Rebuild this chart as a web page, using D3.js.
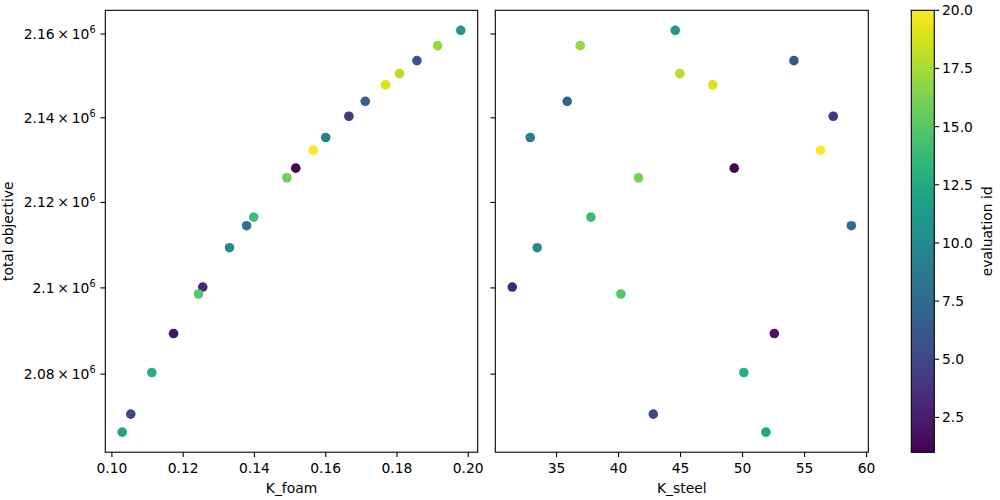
<!DOCTYPE html>
<html>
<head>
<meta charset="utf-8">
<script src="https://cdn.jsdelivr.net/npm/d3@7"></script>
<style>
  html, body { margin: 0; padding: 0; background: #fff; }
  svg { display: block; }
  text { font-family: "DejaVu Sans", sans-serif; fill: #000; }
</style>
</head>
<body>
<svg id="chart" width="1000" height="500"></svg>
<script>
// ---- data ----
const evalIds   = [1,2,3,4,5,6,7,8,9,10,11,12,13,14,15,16,17,18,19,20];
const kFoam     = [0.1516,0.1173,0.1255,0.1665,0.1053,0.1856,0.1711,0.1378,0.1600,0.1330,
                   0.1979,0.1029,0.1112,0.1398,0.1243,0.1491,0.1914,0.1807,0.1768,0.1565];
const kSteel    = [49.33,52.56,31.43,57.31,42.80,54.14,35.86,58.77,32.88,33.44,
                   44.57,51.88,50.10,37.77,40.19,41.61,36.91,44.94,47.60,56.29];
const totalObj  = [2.12808e6,2.08939e6,2.10020e6,2.14037e6,2.07080e6,2.15362e6,2.14393e6,2.11454e6,2.13533e6,2.10939e6,
                   2.16086e6,2.06667e6,2.08038e6,2.11656e6,2.09858e6,2.12582e6,2.15720e6,2.15052e6,2.14783e6,2.13233e6];
const yTicks    = [2.08e6, 2.10e6, 2.12e6, 2.14e6, 2.16e6];
const yTickMant = ["2.08", "2.1", "2.12", "2.14", "2.16"];
const foamTicks = [0.10, 0.12, 0.14, 0.16, 0.18, 0.20];
const steelTicks= [35, 40, 45, 50, 55, 60];
const cbTicks   = [2.5, 5.0, 7.5, 10.0, 12.5, 15.0, 17.5, 20.0];

// ---- layout ----
const yTop = 10.3, yBot = 452.2;
const P1 = {x0: 105.3, x1: 477.7};
const P2 = {x0: 495.3, x1: 868.3};
const CB = {x0: 911.3, x1: 934.3, y0: 10.3, y1: 452.3};
const FS = 13.89, TL = 4.86, PAD = 4.86;

const svg = d3.select("#chart");

function lin(vals, r){
  const [a,b] = d3.extent(vals); const m = (b-a)*0.05;
  return d3.scaleLinear().domain([a-m, b+m]).range(r);
}
const la = d3.extent(totalObj).map(Math.log10);
const lm = (la[1]-la[0])*0.05;
const y = d3.scaleLog().domain([10**(la[0]-lm), 10**(la[1]+lm)]).range([yBot, yTop]);
const xF = lin(kFoam, [P1.x0, P1.x1]);
const xS = lin(kSteel, [P2.x0, P2.x1]);
const color = d3.scaleSequential(d3.interpolateViridis).domain([1, 20]);

function panel(P, x, xs, ticks, fmt, label, showY){
  const g = svg.append("g");
  g.selectAll("circle").data(evalIds).join("circle")
    .attr("cx", (d,i)=>x(xs[i])).attr("cy", (d,i)=>y(totalObj[i]))
    .attr("r", 4.8).attr("fill", d=>color(d));
  g.append("rect").attr("x", P.x0).attr("y", yTop).attr("width", P.x1-P.x0).attr("height", yBot-yTop)
    .attr("fill","none").attr("stroke","#000").attr("stroke-width",1.1);
  ticks.forEach(t=>{
    const px = x(t);
    g.append("line").attr("x1",px).attr("x2",px).attr("y1",yBot).attr("y2",yBot+TL)
      .attr("stroke","#000").attr("stroke-width",1.1);
    g.append("text").attr("x",px).attr("y",yBot+TL+PAD+10.9).attr("text-anchor","middle")
      .attr("font-size",FS).text(fmt(t));
  });
  g.append("text").attr("x",(P.x0+P.x1)/2).attr("y",493.4).attr("text-anchor","middle")
    .attr("font-size",FS).text(label);
  yTicks.forEach((t,i)=>{
    const py = y(t);
    g.append("line").attr("x1",P.x0-TL).attr("x2",P.x0).attr("y1",py).attr("y2",py)
      .attr("stroke","#000").attr("stroke-width",1.1);
    if(showY){
      const tx = g.append("text").attr("x",P.x0-TL-PAD).attr("y",py+5).attr("text-anchor","end")
        .attr("font-size",FS);
      tx.append("tspan").text(yTickMant[i] + "\u2009\u00d7\u200910");
      tx.append("tspan").attr("dy",-6).attr("font-size",9.7).text("6");
    }
  });
}
panel(P1, xF, kFoam, foamTicks, d=>d.toFixed(2), "K_foam", true);
panel(P2, xS, kSteel, steelTicks, d=>String(d), "K_steel", false);

svg.append("text").attr("transform",`translate(13.2,${(yTop+yBot)/2}) rotate(-90)`)
  .attr("text-anchor","middle").attr("font-size",FS).text("total objective");

const defs = svg.append("defs");
const grad = defs.append("linearGradient").attr("id","vir").attr("x1",0).attr("x2",0).attr("y1",1).attr("y2",0);
d3.range(0, 1.0001, 0.05).forEach(t=>{
  grad.append("stop").attr("offset", t).attr("stop-color", d3.interpolateViridis(t));
});
svg.append("rect").attr("x",CB.x0).attr("y",CB.y0).attr("width",CB.x1-CB.x0).attr("height",CB.y1-CB.y0)
  .attr("fill","url(#vir)").attr("stroke","#000").attr("stroke-width",1.1);
const cy = d3.scaleLinear().domain([1,20]).range([CB.y1, CB.y0]);
cbTicks.forEach(t=>{
  const py = cy(t);
  svg.append("line").attr("x1",CB.x1).attr("x2",CB.x1+TL).attr("y1",py).attr("y2",py)
    .attr("stroke","#000").attr("stroke-width",1.1);
  svg.append("text").attr("x",CB.x1+TL+PAD-2).attr("y",py+5).attr("font-size",FS).text(t.toFixed(1));
});
svg.append("text").attr("transform",`translate(991.5,${(CB.y0+CB.y1)/2}) rotate(-90)`)
  .attr("text-anchor","middle").attr("font-size",FS).text("evaluation id");
</script>
</body>
</html>
